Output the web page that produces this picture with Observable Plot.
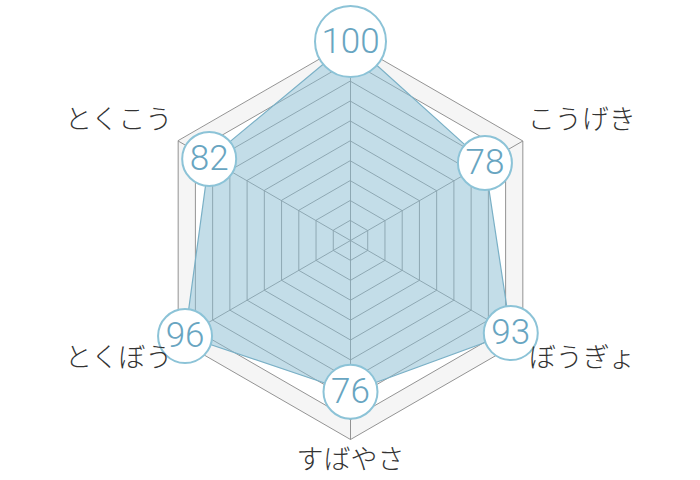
<!DOCTYPE html>
<html>
<head>
<meta charset="utf-8">
<script src="https://cdn.jsdelivr.net/npm/d3@7"></script>
<script src="https://cdn.jsdelivr.net/npm/@observablehq/plot@0.6"></script>
<style>
  html, body { margin: 0; padding: 0; background: #fff; }
  #chart { width: 700px; height: 480px; }
</style>
</head>
<body>
<div id="chart"></div>
<script>
// ---- data ----
const categories = ["HP", "こうげき", "ぼうぎょ", "すばやさ", "とくぼう", "とくこう"];
const values = [100, 78, 93, 76, 96, 82];
const ringLevels = [10, 20, 30, 40, 50, 60, 70, 80, 90, 100];
const maxValue = 100;

// ---- helpers (polar -> cartesian in data units) ----
const n = categories.length;
const angleOf = i => (i * 2 * Math.PI) / n; // clockwise from top
const px = (v, i) => v * Math.sin(angleOf(i));
const py = (v, i) => v * Math.cos(angleOf(i));

const ringRows = level => categories.map((c, i) => ({level, i, x: px(level, i), y: py(level, i)}));
const gridRows = ringLevels.flatMap(ringRows);
const spokeRows = categories.map((c, i) => ({category: c, i, x: px(maxValue, i), y: py(maxValue, i)}));
const dataRows = categories.map((c, i) => ({category: c, value: values[i], i, x: px(values[i], i), y: py(values[i], i)}));

// pixel-per-unit so that the outer ring has radius ~199px, center (350,240)
const W = 700, H = 480, k = 1.99;
const xDomain = [-(W / 2) / k, (W / 2) / k];
const yDomain = [-(H / 2) / k, (H / 2) / k];

const bandMarks = ringLevels.slice().reverse().map(level =>
  Plot.line(ringRows(level), {
    x: "x", y: "y", curve: "linear-closed",
    fill: (level / 10) % 2 === 0 ? "#f5f5f5" : "#ffffff",
    stroke: "none"
  })
);

const labelFont = {fontSize: 27, fontFamily: "Noto Sans CJK JP", fill: "#333", fontWeight: 300};
const isRightTop = d => d.i === 1;
const isRightBottom = d => d.i === 2;
const isBottom = d => d.i === 3;
const isLeftBottom = d => d.i === 4;
const isLeftTop = d => d.i === 5;

const chart = Plot.plot({
  width: W,
  height: H,
  margin: 0,
  x: {domain: xDomain, axis: null},
  y: {domain: yDomain, axis: null},
  r: {type: "identity"},
  style: {background: "white", overflow: "visible"},
  marks: [
    ...bandMarks,
    Plot.line(dataRows, {x: "x", y: "y", curve: "linear-closed", fill: "white", stroke: "none"}),
    Plot.line(gridRows, {x: "x", y: "y", z: "level", curve: "linear-closed", stroke: "#888", strokeWidth: 0.9}),
    Plot.link(spokeRows, {x1: () => 0, y1: () => 0, x2: "x", y2: "y", stroke: "#888", strokeWidth: 0.9}),
    Plot.line(dataRows, {
      x: "x", y: "y", curve: "linear-closed",
      fill: "#87bbd1", fillOpacity: 0.5,
      stroke: "#7ab0c6", strokeWidth: 1.2
    }),
    Plot.dot(dataRows, {
      x: "x", y: "y",
      r: d => 10 + String(d.value).length * 8.5,
      fill: "white", stroke: "#8cc3d7", strokeWidth: 2
    }),
    Plot.text(dataRows, {
      x: "x", y: "y", text: d => String(d.value),
      fill: "#68a5c1", fontSize: 35, fontFamily: "Roboto", fontWeight: 300
    }),
    Plot.text(spokeRows.filter(isRightTop), {x: "x", y: "y", text: "category", textAnchor: "start", dx: 5, dy: -21, ...labelFont}),
    Plot.text(spokeRows.filter(isRightBottom), {x: "x", y: "y", text: "category", textAnchor: "start", dx: 6, dy: 18, ...labelFont}),
    Plot.text(spokeRows.filter(isBottom), {x: "x", y: "y", text: "category", textAnchor: "middle", dy: 21, ...labelFont}),
    Plot.text(spokeRows.filter(isLeftBottom), {x: "x", y: "y", text: "category", textAnchor: "end", dx: -6, dy: 18, ...labelFont}),
    Plot.text(spokeRows.filter(isLeftTop), {x: "x", y: "y", text: "category", textAnchor: "end", dx: -6, dy: -21, ...labelFont})
  ]
});
document.getElementById("chart").appendChild(chart);
</script>
</body>
</html>
